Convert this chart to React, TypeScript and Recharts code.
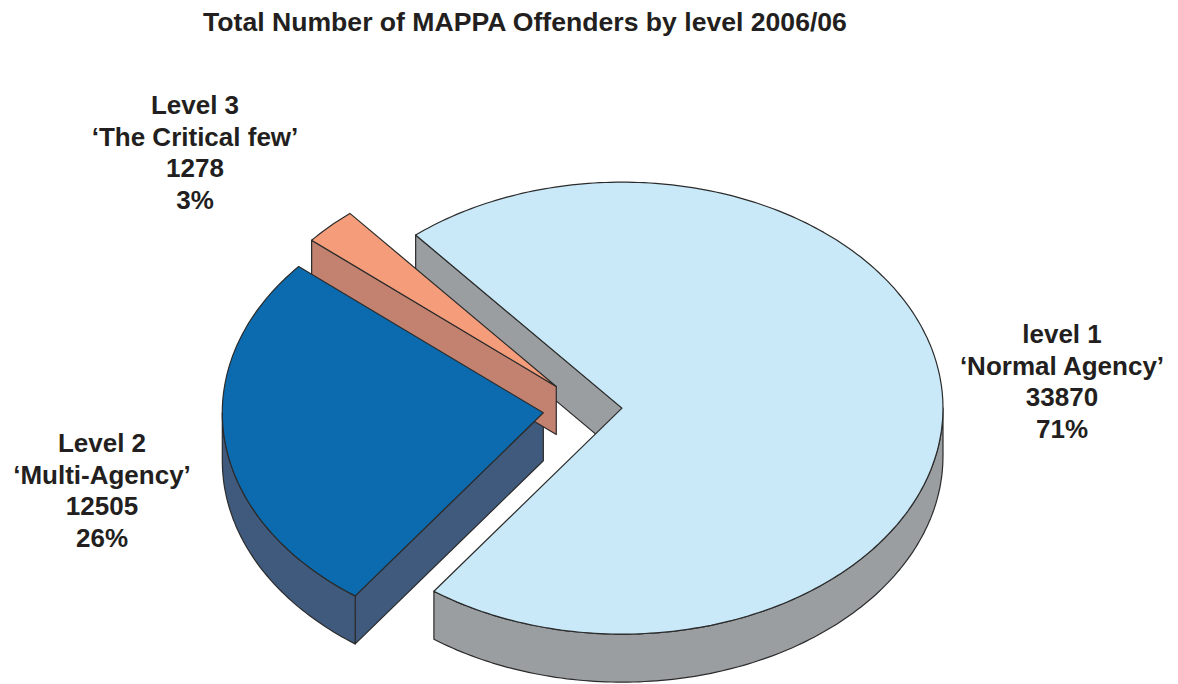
import { PieChart, Pie } from "recharts"

const LEVELS = ["level 1", "Level 2", "Level 3"]
const SUBTITLES = ["\u2018Normal Agency\u2019", "\u2018Multi-Agency\u2019", "\u2018The Critical few\u2019"]
const COUNTS = [33870, 12505, 1278]
const PERCENTS = ["71%", "26%", "3%"]

const data = LEVELS.map((name, i) => ({ name, value: COUNTS[i] }))

const TOP_COLORS = ["#c9e9f8", "#0b6bae", "#f59d7a"]
const SIDE_COLORS = ["#9a9ea1", "#3f5a7c", "#c3826f"]
const EXPLODE = [34, 45, 45]
const LABEL_POS = [
  { x: 1062, y: 343 },
  { x: 102, y: 452 },
  { x: 195, y: 114 },
]

const TILT = 0.704
const DEPTH = 48
const RAD = Math.PI / 180
const EDGE = "#2b2b2b"
const FONT = "'Liberation Sans', Arial, sans-serif"

function geom(p: any) {
  const mid = (p.startAngle + p.endAngle) / 2
  const off = EXPLODE[p.index]
  const cx = p.cx + off * Math.cos(mid * RAD)
  const cy = p.cy - off * TILT * Math.sin(mid * RAD)
  const rx = p.outerRadius
  const ry = p.outerRadius * TILT
  const pt = (a: number, dy = 0) => [cx + rx * Math.cos(a * RAD), cy - ry * Math.sin(a * RAD) + dy]
  return {
    cx, cy, pt,
    lo: Math.min(p.startAngle, p.endAngle),
    hi: Math.max(p.startAngle, p.endAngle),
  }
}

function arcPts(pt: (a: number, dy?: number) => number[], a0: number, a1: number, dy: number) {
  const n = Math.max(2, Math.ceil(Math.abs(a1 - a0)))
  const out: string[] = []
  for (let i = 0; i <= n; i++) {
    const [x, y] = pt(a0 + ((a1 - a0) * i) / n, dy)
    out.push(`${x.toFixed(1)},${y.toFixed(1)}`)
  }
  return out
}

function renderSide(p: any) {
  const g = geom(p)
  const color = SIDE_COLORS[p.index]
  const paths: string[] = []
  const face = (a: number) => {
    const [ox, oy] = g.pt(a)
    return `M${g.cx},${g.cy} L${ox},${oy} L${ox},${oy + DEPTH} L${g.cx},${g.cy + DEPTH} Z`
  }
  if (Math.cos(g.hi * RAD) < 0) paths.push(face(g.hi))
  if (Math.cos(g.lo * RAD) > 0) paths.push(face(g.lo))
  for (let k = -2; k <= 1; k++) {
    const a0 = Math.max(g.lo, -180 + 360 * k)
    const a1 = Math.min(g.hi, 360 * k)
    if (a1 > a0) {
      const top = arcPts(g.pt, a0, a1, 0)
      const bottom = arcPts(g.pt, a1, a0, DEPTH)
      paths.push(`M${top.join(" L")} L${bottom.join(" L")} Z`)
    }
  }
  return (
    <g key={`side-${p.index}`}>
      {paths.map((d, i) => (
        <path key={i} d={d} fill={color} stroke={EDGE} strokeWidth={1.2} strokeLinejoin="round" />
      ))}
    </g>
  )
}

function renderTop(p: any) {
  const g = geom(p)
  const rim = arcPts(g.pt, p.startAngle, p.endAngle, 0)
  const pos = LABEL_POS[p.index]
  const lines = [LEVELS[p.index], SUBTITLES[p.index], String(COUNTS[p.index]), PERCENTS[p.index]]
  return (
    <g key={`top-${p.index}`}>
      <path
        d={`M${g.cx},${g.cy} L${rim.join(" L")} Z`}
        fill={TOP_COLORS[p.index]}
        stroke={EDGE}
        strokeWidth={1.2}
        strokeLinejoin="round"
      />
      <text
        x={pos.x}
        y={pos.y}
        textAnchor="middle"
        fontFamily={FONT}
        fontWeight="bold"
        fontSize={26}
        fill="#231f20"
      >
        {lines.map((t, i) => (
          <tspan key={i} x={pos.x} dy={i === 0 ? 0 : 31.5}>
            {t}
          </tspan>
        ))}
      </text>
    </g>
  )
}

export default function App() {
  return (
    <div style={{ position: "absolute", left: 0, top: 0, width: 1178, height: 684, background: "#fff" }}>
      <div
        style={{
          position: "absolute",
          left: 0,
          top: 9,
          width: 1050,
          textAlign: "center",
          fontFamily: FONT,
          fontWeight: "bold",
          fontSize: 26.6,
          lineHeight: "26px",
          color: "#231f20",
          whiteSpace: "nowrap",
        }}
      >
        Total Number of MAPPA Offenders by level 2006/06
      </div>
      <PieChart width={1178} height={684} margin={{ top: 0, right: 0, bottom: 0, left: 0 }}>
        <Pie
          data={data}
          dataKey="value"
          nameKey="name"
          cx={588}
          cy={409}
          outerRadius={321}
          startAngle={130}
          endAngle={-230}
          fill="none"
          stroke="none"
          label={renderSide}
          labelLine={false}
          isAnimationActive={false}
        />
        <Pie
          data={data}
          dataKey="value"
          nameKey="name"
          cx={588}
          cy={409}
          outerRadius={321}
          startAngle={130}
          endAngle={-230}
          fill="none"
          stroke="none"
          label={renderTop}
          labelLine={false}
          isAnimationActive={false}
        />
      </PieChart>
    </div>
  )
}
